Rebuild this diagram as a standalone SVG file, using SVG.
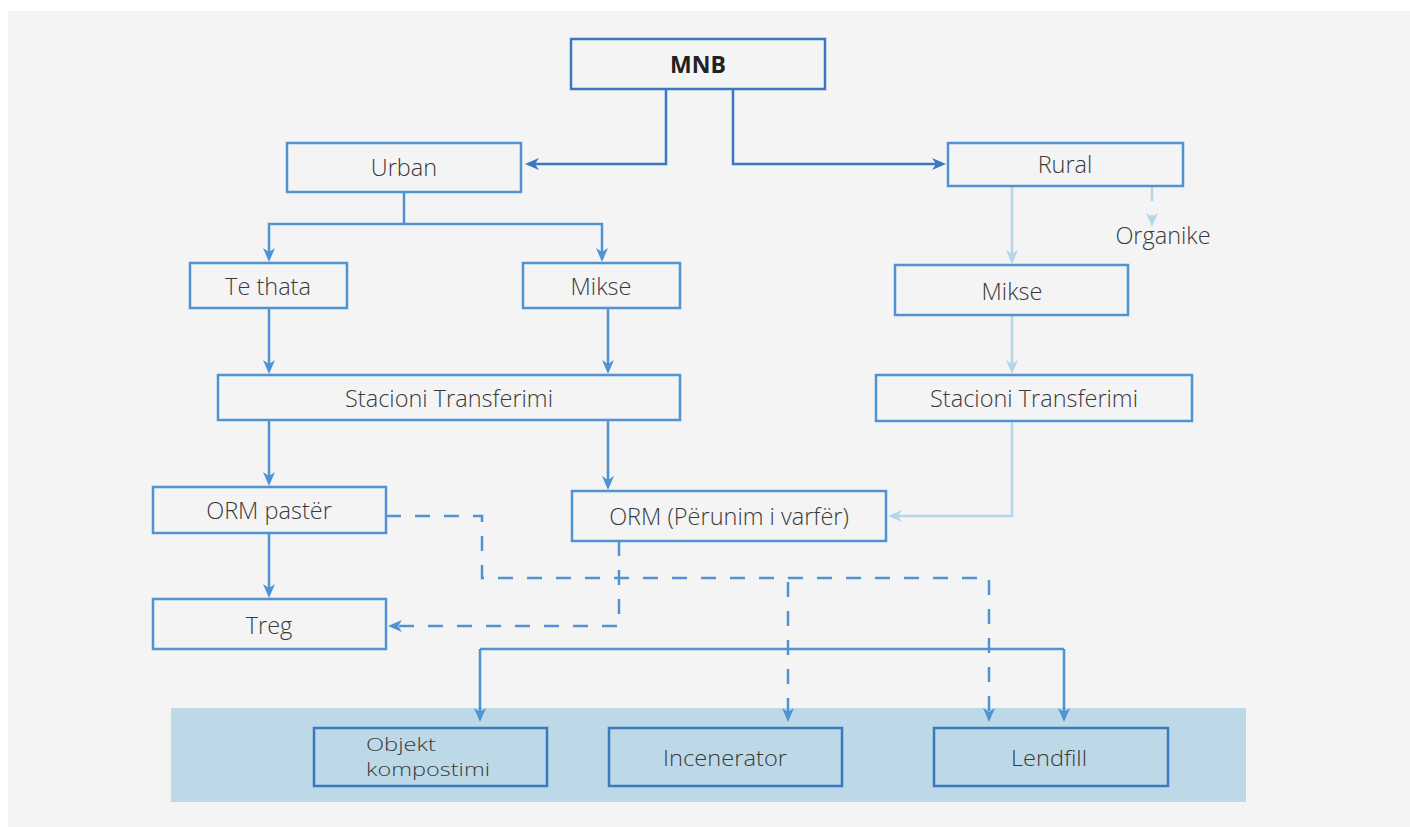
<svg xmlns="http://www.w3.org/2000/svg" width="1410" height="827" viewBox="0 0 1410 827">
<style>
.box{fill:none;stroke:#4f93d3;stroke-width:2.5}
.dark{fill:none;stroke:#3b78c2;stroke-width:2.5}
.t{font-family:"Open Sans","Liberation Sans",sans-serif;font-weight:300;font-size:23.5px;fill:#3a3a3a;text-anchor:middle}
.tb{font-family:"Open Sans","Liberation Sans",sans-serif;font-weight:700;font-size:23px;fill:#222;text-anchor:middle}
.tc{font-family:"Open Sans","Liberation Sans",sans-serif;font-weight:300;font-size:22px;fill:#3a3a3a}
.ts{font-family:"Open Sans","Liberation Sans",sans-serif;font-weight:300;font-size:19px;fill:#3a3a3a}
.c{fill:none;stroke:#4f93d3;stroke-width:2.5;marker-end:url(#am)}
.cn{fill:none;stroke:#4f93d3;stroke-width:2.5}
.cd{fill:none;stroke:#3b78c2;stroke-width:2.5;marker-end:url(#ad)}
.cl{fill:none;stroke:#b7d7e9;stroke-width:2.5;marker-end:url(#al)}
.dash{stroke-dasharray:15 14}
</style>
<defs>
<marker id="am" markerUnits="userSpaceOnUse" markerWidth="15" markerHeight="12" refX="10" refY="6" orient="auto"><path d="M0,0 L14,6 L0,12 L4,6 z" fill="#4f93d3"/></marker>
<marker id="ad" markerUnits="userSpaceOnUse" markerWidth="15" markerHeight="12" refX="10" refY="6" orient="auto"><path d="M0,0 L14,6 L0,12 L4,6 z" fill="#3b78c2"/></marker>
<marker id="al" markerUnits="userSpaceOnUse" markerWidth="15" markerHeight="12" refX="10" refY="6" orient="auto"><path d="M0,0 L14,6 L0,12 L4,6 z" fill="#b7d7e9"/></marker>
</defs>
<rect x="0" y="0" width="1410" height="827" fill="#ffffff"/>
<rect x="8" y="11" width="1402" height="816" fill="#f4f4f4"/>
<rect x="171" y="708" width="1075" height="94" fill="#bdd9e7"/>

<g id="connectors">
<path class="cd" d="M666,89 V164 H529"/>
<path class="cd" d="M733,89 V164 H942"/>
<path class="cn" d="M404,192 V224"/>
<path class="c" d="M404,224 H269 V258"/>
<path class="c" d="M404,224 H602 V258"/>
<path class="c" d="M269,308 V370"/>
<path class="c" d="M608,308 V370"/>
<path class="c" d="M269,420 V482"/>
<path class="c" d="M608,420 V486"/>
<path class="c" d="M269,533 V594"/>
<path class="c dash" d="M386,516 H482 V578 H989 V718"/>
<path class="c dash" d="M788,582 V718"/>
<path class="c dash" d="M619,541 V626 H392"/>
<path class="cn" d="M480,649 H1064"/>
<path class="c" d="M480,649 V718"/>
<path class="c" d="M1064,649 V718"/>
<path class="cl" d="M1012,186 V260"/>
<path class="cl dash" d="M1152,186 V223"/>
<path class="cl" d="M1012,315 V370"/>
<path class="cl" d="M1012,421 V516 H892"/>
</g>

<g id="mnb"><rect class="dark" x="571" y="39" width="254" height="50"/><text class="tb" x="698" y="73">MNB</text></g>
<g id="urban"><rect class="box" x="287" y="143" width="234" height="49"/><text class="t" x="404" y="176">Urban</text></g>
<g id="rural"><rect class="box" x="948" y="143" width="235" height="43"/><text class="t" x="1065" y="173">Rural</text></g>
<g id="organike"><text class="t" x="1163" y="244">Organike</text></g>
<g id="tethata"><rect class="box" x="190" y="263" width="157" height="45"/><text class="t" x="268" y="295">Te thata</text></g>
<g id="mikse-u"><rect class="box" x="523" y="263" width="157" height="45"/><text class="t" x="601" y="295">Mikse</text></g>
<g id="mikse-r"><rect class="box" x="895" y="265" width="233" height="50"/><text class="t" x="1012" y="300">Mikse</text></g>
<g id="stacioni-u"><rect class="box" x="218" y="375" width="462" height="45"/><text class="t" x="449" y="407">Stacioni Transferimi</text></g>
<g id="stacioni-r"><rect class="box" x="876" y="375" width="316" height="46"/><text class="t" x="1034" y="407">Stacioni Transferimi</text></g>
<g id="orm-paster"><rect class="box" x="153" y="487" width="233" height="46"/><text class="t" x="269" y="519">ORM pastër</text></g>
<g id="orm-varfer"><rect class="box" x="572" y="491" width="314" height="50"/><text class="t" x="729" y="525">ORM (Përunim i varfër)</text></g>
<g id="treg"><rect class="box" x="153" y="599" width="233" height="50"/><text class="t" x="269" y="634">Treg</text></g>
<g id="kompostimi"><rect class="dark" x="314" y="728" width="233" height="58"/><text class="ts" x="366" y="751" textLength="70" lengthAdjust="spacingAndGlyphs">Objekt</text><text class="ts" x="366" y="776" textLength="124" lengthAdjust="spacingAndGlyphs">kompostimi</text></g>
<g id="incenerator"><rect class="dark" x="609" y="728" width="233" height="58"/><text class="tc" x="663" y="766" textLength="124" lengthAdjust="spacingAndGlyphs">Incenerator</text></g>
<g id="lendfill"><rect class="dark" x="934" y="728" width="234" height="58"/><text class="tc" x="1011" y="766" textLength="76" lengthAdjust="spacingAndGlyphs">Lendfill</text></g>
</svg>
